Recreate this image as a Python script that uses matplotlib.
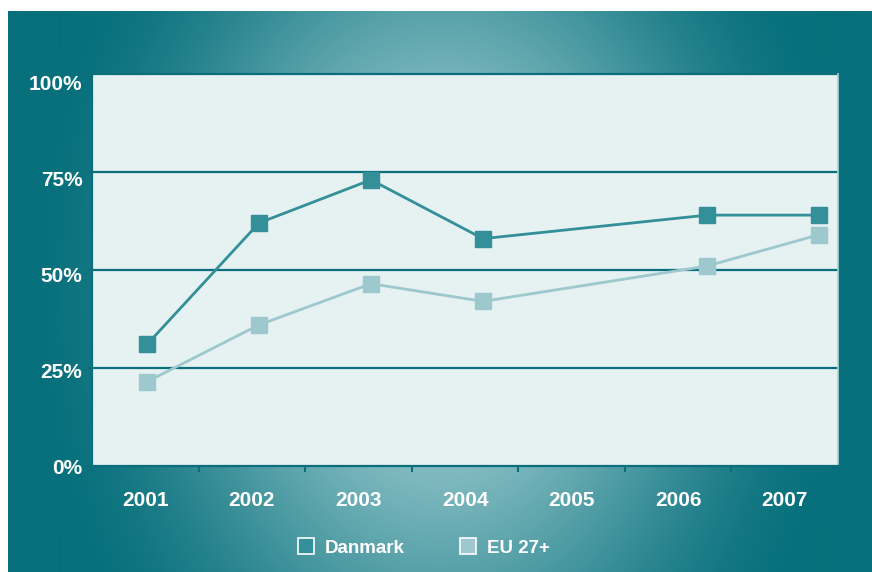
import numpy as np
import matplotlib.pyplot as plt
from matplotlib.lines import Line2D
from matplotlib.colors import to_rgb

plt.rcParams['font.family'] = ['Liberation Sans', 'DejaVu Sans']
plt.rcParams['font.weight'] = 'bold'

categories = ['2001', '2002', '2003', '2004', '2005', '2006', '2007']
years = [2001, 2002, 2003, 2004, 2006, 2007]  # no survey in 2005
danmark = [31, 62, 73, 58, 64, 64]
eu27 = [21.5, 36, 46.5, 42, 51, 59]
y_ticks = [0, 25, 50, 75, 100]
y_labels = ['0%', '25%', '50%', '75%', '100%']

DARK = '#07707c'
LIGHT = '#a6d1d5'
GRID = '#0b6f7b'
C_DK = '#338f98'
C_EU = '#9dc8ce'

W, H = 872, 572
fig = plt.figure(figsize=(W / 100, H / 100), dpi=100)

# teal radial backdrop
bg = fig.add_axes([8 / W, 0, (W - 8) / W, (H - 11) / H])
bg.axis('off')
xx, yy = np.meshgrid(np.arange(8, W), np.arange(11, H))
r = np.sqrt(((xx - 440) / 380.0) ** 2 + ((yy - 290) / 520.0) ** 2) / 1.1
r = np.clip(r, 0, 1)
t = 3 * r ** 2 - 2 * r ** 3
c0, c1 = np.array(to_rgb(LIGHT)), np.array(to_rgb(DARK))
img = c0 * (1 - t[..., None]) + c1 * t[..., None]
bg.imshow(img, aspect='auto', extent=(0, 1, 0, 1), origin='upper')
bg.set_xlim(0, 1)
bg.set_ylim(0, 1)

# plot panel
rect = [92 / W, (H - 466) / H, 746 / W, 392 / H]
ax = fig.add_axes(rect)
ax.set_facecolor('#e6f1f1')
x = np.array(years) - 2001
ax.plot(x, eu27, '-', color=C_EU, lw=2.0, marker='s', ms=11.5, mec=C_EU, zorder=3)
ax.plot(x, danmark, '-', color=C_DK, lw=2.0, marker='s', ms=11.5, mec=C_DK, zorder=4)
ax.set_xlim(-0.491, 6.17)
ax.set_ylim(0, 100)
ax.set_xticks([])
ax.set_yticks(y_ticks)
ax.set_yticklabels([])
ax.tick_params(axis='y', length=3, width=1.5, color=GRID, direction='out')
for v in y_ticks[1:]:
    ax.axhline(v, color=GRID, lw=1.6, zorder=2, clip_on=False)
ax.spines['top'].set_visible(False)
ax.spines['left'].set_color(GRID)
ax.spines['left'].set_linewidth(1.6)
ax.spines['bottom'].set_color(GRID)
ax.spines['bottom'].set_linewidth(1.6)
ax.spines['right'].set_color('#a9d2d6')
ax.spines['right'].set_linewidth(1.2)

# category ticks and labels along the bottom
axc = fig.add_axes(rect, frameon=False)
axc.patch.set_visible(False)
axc.set_xlim(0, 7)
axc.set_ylim(0, 102.1)
axc.set_xticks(np.arange(8))
axc.set_xticklabels([])
axc.set_xticks(np.arange(7) + 0.5, minor=True)
axc.set_xticklabels(categories, minor=True, color='white', fontsize=15, fontweight='bold')
axc.tick_params(axis='x', which='major', length=4, width=1.5, color=GRID, direction='out')
axc.tick_params(axis='x', which='minor', length=0, pad=18)
axc.set_yticks(y_ticks)
axc.set_yticklabels(y_labels, color='white', fontsize=15, fontweight='bold')
axc.tick_params(axis='y', length=0, pad=7)

handles = [
    Line2D([], [], ls='none', marker='s', ms=11, mfc=C_DK, mec='white', mew=1.2),
    Line2D([], [], ls='none', marker='s', ms=11, mfc=C_EU, mec='white', mew=1.2),
]
leg = fig.legend(handles, ['Danmark', 'EU 27+'], loc='center', bbox_to_anchor=(0.485, 1 - 548 / H),
                 ncol=2, frameon=False, handlelength=1.0, handletextpad=0.5, columnspacing=2.9,
                 prop={'size': 13.5, 'weight': 'bold'})
for txt in leg.get_texts():
    txt.set_color('white')

fig.savefig('out.png', dpi=100)
